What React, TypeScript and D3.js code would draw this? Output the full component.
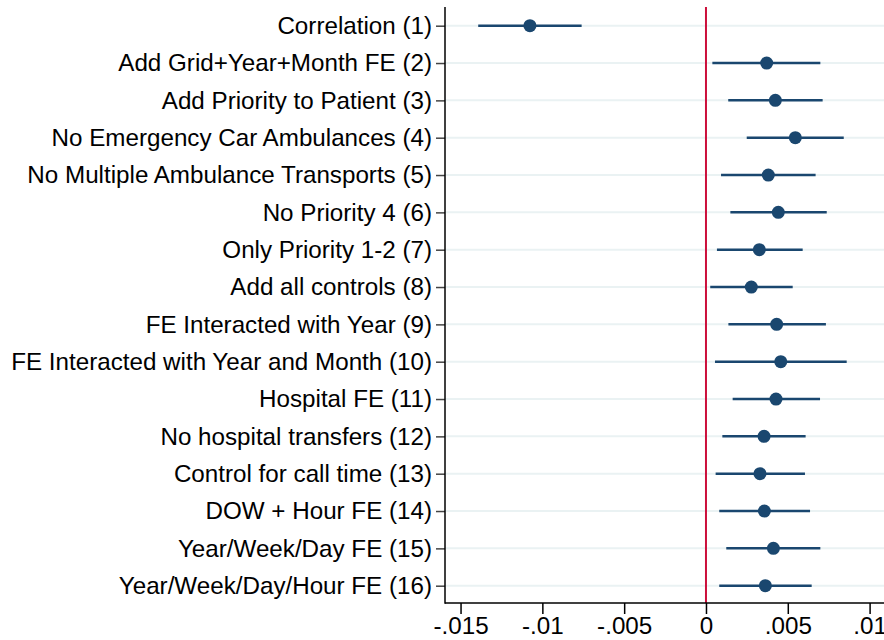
import React, { useEffect, useRef } from 'react';
import * as d3 from 'd3';

const labels = [
  'Correlation (1)',
  'Add Grid+Year+Month FE (2)',
  'Add Priority to Patient (3)',
  'No Emergency Car Ambulances (4)',
  'No Multiple Ambulance Transports (5)',
  'No Priority 4 (6)',
  'Only Priority 1-2 (7)',
  'Add all controls (8)',
  'FE Interacted with Year (9)',
  'FE Interacted with Year and Month (10)',
  'Hospital FE (11)',
  'No hospital transfers (12)',
  'Control for call time (13)',
  'DOW + Hour FE (14)',
  'Year/Week/Day FE (15)',
  'Year/Week/Day/Hour FE (16)',
];

const estimates = [
  -0.01076, 0.00371, 0.00424, 0.00546, 0.00381, 0.00442, 0.00326, 0.00277,
  0.00432, 0.00457, 0.00428, 0.00355, 0.0033, 0.00357, 0.00412, 0.00363,
];

const ciLow = [
  -0.01392, 0.00039, 0.00136, 0.00249, 0.00092, 0.00149, 0.00067, 0.00026,
  0.00137, 0.00055, 0.00163, 0.001, 0.00059, 0.00081, 0.00124, 0.00081,
];

const ciHigh = [
  -0.0076, 0.00699, 0.00713, 0.00842, 0.0067, 0.00738, 0.00591, 0.0053,
  0.00733, 0.0086, 0.00697, 0.00609, 0.00605, 0.00636, 0.00699, 0.00646,
];

const xTicks = [-0.015, -0.01, -0.005, 0, 0.005, 0.01];

const fmt = (v: number) => {
  if (v === 0) return '0';
  const s = String(+v.toFixed(3));
  return s.replace('0.', '.');
};

const App: React.FC = () => {
  const svgRef = useRef<SVGSVGElement>(null);

  useEffect(() => {
    if (!svgRef.current) return;
    const svg = d3.select(svgRef.current);
    svg.selectAll('*').remove();

    const width = 884;
    const height = 640;
    const left = 445;
    const top = 7;
    const bottom = 603;
    const font = '"Liberation Sans", Arial, sans-serif';
    const fontSize = 24.2;
    const navy = '#1a476f';

    const x = d3.scaleLinear().domain([-0.01595, 0.01088]).range([left, width]);
    const y = d3.scalePoint<string>().domain(labels).range([25.7, 585.7]);

    svg.append('rect').attr('width', width).attr('height', height).attr('fill', '#fff');

    // grid lines
    svg.append('g')
      .selectAll('line')
      .data(labels)
      .join('line')
      .attr('x1', left)
      .attr('x2', width)
      .attr('y1', d => y(d)!)
      .attr('y2', d => y(d)!)
      .attr('stroke', '#eaf2f3')
      .attr('stroke-width', 2);

    // zero line
    svg.append('line')
      .attr('x1', x(0)).attr('x2', x(0))
      .attr('y1', top).attr('y2', bottom)
      .attr('stroke', '#cc0f3b')
      .attr('stroke-width', 2);

    // axes
    const yAxis = svg.append('g')
      .attr('transform', `translate(${left},0)`)
      .call(d3.axisLeft(y).tickSize(9).tickPadding(4));
    yAxis.select('.domain').remove();
    yAxis.selectAll('.tick line').attr('stroke', '#444').attr('stroke-width', 1.5);
    yAxis.selectAll('.tick text')
      .attr('font-family', font)
      .attr('font-size', fontSize)
      .attr('fill', '#000');

    svg.append('line')
      .attr('x1', left).attr('x2', left)
      .attr('y1', top).attr('y2', bottom + 0.75)
      .attr('stroke', '#000').attr('stroke-width', 1.5);

    const xAxis = svg.append('g')
      .attr('transform', `translate(0,${bottom})`)
      .call(d3.axisBottom(x).tickValues(xTicks).tickFormat(d => fmt(+d)).tickSize(11).tickPadding(3));
    xAxis.select('.domain').remove();
    xAxis.selectAll('.tick line').attr('stroke', '#000').attr('stroke-width', 1.5);
    xAxis.selectAll('.tick text')
      .attr('font-family', font)
      .attr('font-size', fontSize)
      .attr('fill', '#000');

    svg.append('line')
      .attr('x1', left).attr('x2', width)
      .attr('y1', bottom).attr('y2', bottom)
      .attr('stroke', '#000').attr('stroke-width', 1.5);

    // confidence intervals
    svg.append('g')
      .selectAll('line')
      .data(labels)
      .join('line')
      .attr('x1', (_, i) => x(ciLow[i]))
      .attr('x2', (_, i) => x(ciHigh[i]))
      .attr('y1', d => y(d)!)
      .attr('y2', d => y(d)!)
      .attr('stroke', navy)
      .attr('stroke-width', 2.5);

    // point estimates
    svg.append('g')
      .selectAll('circle')
      .data(labels)
      .join('circle')
      .attr('cx', (_, i) => x(estimates[i]))
      .attr('cy', d => y(d)!)
      .attr('r', 6.5)
      .attr('fill', navy);
  }, []);

  return (
    <svg
      ref={svgRef}
      width={884}
      height={640}
      style={{ position: 'absolute', left: 0, top: 0, display: 'block' }}
    />
  );
};

export default App;
